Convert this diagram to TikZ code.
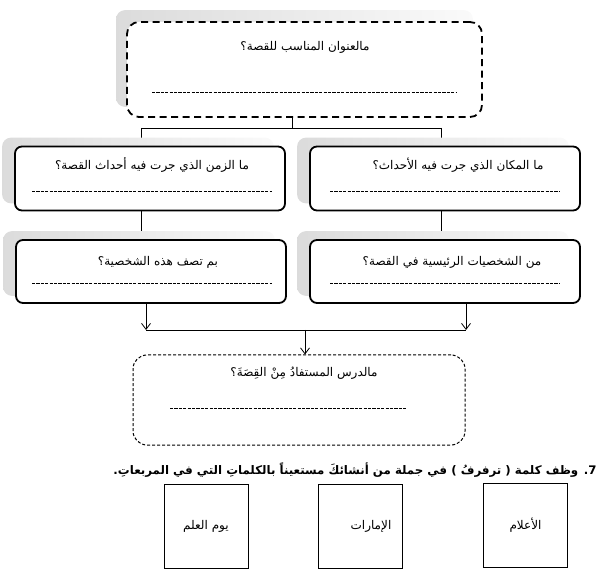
\documentclass[tikz,border=0pt]{standalone}
\usepackage{fontspec}
\TeXXeTstate=1
\newfontfamily\arabicfont[Script=Arabic]{DejaVu Sans}
\usetikzlibrary{arrows.meta,positioning,backgrounds}

\begin{document}
\begin{tikzpicture}[x=1pt,y=1pt,>={Straight Barb[length=6pt,width=9pt]},
	shadowbox/.style={left color=gray!28,right color=gray!4,rounded corners=9pt},
	qbox/.style={draw,line width=1.8pt,rounded corners=7pt,fill=white,minimum width=270pt,minimum height=64pt},
	titlebox/.style={draw,line width=1.8pt,dash pattern=on 7pt off 4.5pt,rounded corners=12pt,fill=white},
	lessonbox/.style={draw,line width=1pt,dash pattern=on 3pt off 2pt,rounded corners=14pt,fill=white},
	qtext/.style={font=\arabicfont\fontsize{12}{14}\selectfont},
	answer/.style={dash pattern=on 3.2pt off 1.2pt,line width=0.6pt},
	conn/.style={line width=0.8pt},
	wordsq/.style={draw,line width=0.8pt,minimum size=84pt,font=\arabicfont\fontsize{12}{14}\selectfont}
]
	\useasboundingbox (0,0) rectangle (609,578);
	\coordinate (topbus) at (292,450);
	\coordinate (lbus) at (141,450);
	\coordinate (rbus) at (441,450);
	\coordinate (la) at (146,248);
	\coordinate (ra) at (466,248);
	\coordinate (ma) at (305,248);

	\node[titlebox,minimum width=355pt,minimum height=95pt] (title) at (304.5,508.5) {};
	\node[qtext] (titleq) at (305,531) {\beginR مالعنوان المناسب للقصة؟\endR};
	\draw[answer] (152,486) -- (457,486);

	\node[qbox] (when) at (150,399.5) {};
	\node[qbox] (where) at (445,399.5) {};
	\node[qtext] (whenq) at (152,413) {\beginR ما الزمن الذي جرت فيه أحداث القصة؟\endR};
	\node[qtext] (whereq) at (458,413) {\beginR ما المكان الذي جرت فيه الأحداث؟\endR};
	\draw[answer] (32,387) -- (272,387);
	\draw[answer] (330,387) -- (560,387);

	\node[qbox,minimum height=63pt] (describe) at (151,306.5) {};
	\node[qbox,minimum height=63pt] (who) at (445,306.5) {};
	\node[qtext] (describeq) at (158,316) {\beginR بم تصف هذه الشخصية؟\endR};
	\node[qtext] (whoq) at (452,316) {\beginR من الشخصيات الرئيسية في القصة؟\endR};
	\draw[answer] (32,295) -- (272,295);
	\draw[answer] (330,295) -- (560,295);

	\node[lessonbox,minimum width=332pt,minimum height=90pt] (lesson) at (299,178) {};
	\node[qtext] (lessonq) at (304,205) {\beginR مالدرس المستفادُ مِنْ القِصَةَ؟\endR};
	\draw[answer] (170,170) -- (407,170);

	\node[anchor=east,font=\arabicfont\bfseries\fontsize{11.8}{13}\selectfont] (task) at (600,108)
		{\beginR\beginL 7.\endL{} وظف كلمة ( ترفرفُ ) في جملة من أنشائكَ مستعيناً بالكلماتِ التي في المربعاتِ.\endR};

	\node[wordsq] (flags) at (525.5,52.5) {\beginR الأعلام\endR};
	\node[wordsq] (emirates) at (360,51.5) {\hspace*{22pt}\beginR الإمارات\endR};
	\node[wordsq] (flagday) at (206,52) {\beginR يوم العلم\endR};

	\begin{pgfonlayer}{background}
		\draw[conn] (title.south -| topbus) -- (topbus);
		\draw[conn] (lbus) -- (rbus);
		\draw[conn] (lbus) -- (when.north -| lbus);
		\draw[conn] (rbus) -- (where.north -| rbus);
		\draw[conn] (when.south -| lbus) -- (describe.north -| lbus);
		\draw[conn] (where.south -| rbus) -- (who.north -| rbus);
		\draw[conn,->] (describe.south -| la) -- (la);
		\draw[conn,->] (who.south -| ra) -- (ra);
		\draw[conn] (la) -- (ra);
		\draw[conn,->] (ma) -- (lesson.north -| ma);
		\shade[shadowbox] ([shift={(-10,11)}]title.south west) rectangle ([shift={(-10,11)}]title.north east);
		\foreach \b in {when,where,describe,who}
			\shade[shadowbox] ([shift={(-12,8)}]\b.south west) rectangle ([shift={(-12,8)}]\b.north east);
	\end{pgfonlayer}
\end{tikzpicture}
\end{document}
